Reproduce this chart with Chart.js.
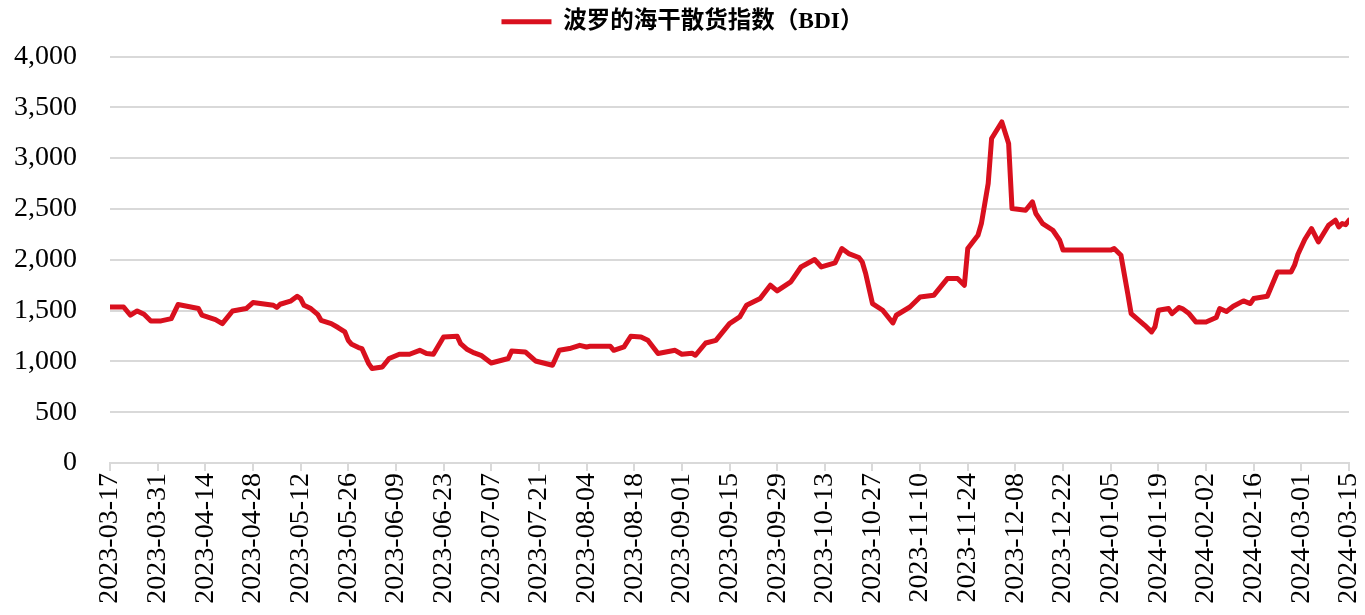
<!DOCTYPE html>
<html lang="zh-CN">
<head>
  <meta charset="UTF-8" />
  <title>波罗的海干散货指数（BDI）</title>
  <script src="https://cdn.jsdelivr.net/npm/chart.js"></script>
  <style>
    html, body { margin: 0; padding: 0; background: #fff; }
    #wrap { width: 1365px; height: 615px; position: relative; }
  </style>
</head>
<body>
  <div id="wrap"><canvas id="bdiChart"></canvas></div>

  <script>
    // BDI daily series
    const seriesName = '波罗的海干散货指数（BDI）';
    const startDate = '2023-03-17';
    const endDate = '2024-03-15';
    const tickStepDays = 14;
    const yTicks = [0, 500, 1000, 1500, 2000, 2500, 3000, 3500, 4000];

    const dates = [
      '2023-03-17', '2023-03-21', '2023-03-23', '2023-03-25', '2023-03-27', '2023-03-29', '2023-04-01', '2023-04-04',
      '2023-04-06', '2023-04-12', '2023-04-13', '2023-04-17', '2023-04-19', '2023-04-22', '2023-04-26', '2023-04-28',
      '2023-05-04', '2023-05-05', '2023-05-06', '2023-05-09', '2023-05-11', '2023-05-12', '2023-05-13', '2023-05-15',
      '2023-05-17', '2023-05-18', '2023-05-21', '2023-05-23', '2023-05-25', '2023-05-26', '2023-05-27', '2023-05-29',
      '2023-05-30', '2023-06-01', '2023-06-02', '2023-06-05', '2023-06-07', '2023-06-10', '2023-06-13', '2023-06-16',
      '2023-06-18', '2023-06-20', '2023-06-23', '2023-06-27', '2023-06-28', '2023-06-30', '2023-07-02', '2023-07-04',
      '2023-07-07', '2023-07-12', '2023-07-13', '2023-07-17', '2023-07-20', '2023-07-25', '2023-07-27', '2023-07-30',
      '2023-08-02', '2023-08-04', '2023-08-05', '2023-08-11', '2023-08-12', '2023-08-15', '2023-08-17', '2023-08-20',
      '2023-08-22', '2023-08-25', '2023-08-30', '2023-09-01', '2023-09-04', '2023-09-05', '2023-09-08', '2023-09-11',
      '2023-09-15', '2023-09-18', '2023-09-20', '2023-09-24', '2023-09-27', '2023-09-29', '2023-10-03', '2023-10-06',
      '2023-10-10', '2023-10-12', '2023-10-16', '2023-10-18', '2023-10-20', '2023-10-23', '2023-10-24', '2023-10-25',
      '2023-10-27', '2023-10-30', '2023-11-02', '2023-11-03', '2023-11-07', '2023-11-10', '2023-11-14', '2023-11-18',
      '2023-11-21', '2023-11-23', '2023-11-24', '2023-11-27', '2023-11-28', '2023-11-30', '2023-12-01', '2023-12-04',
      '2023-12-06', '2023-12-07', '2023-12-11', '2023-12-13', '2023-12-14', '2023-12-16', '2023-12-19', '2023-12-21',
      '2023-12-22', '2024-01-05', '2024-01-06', '2024-01-08', '2024-01-10', '2024-01-11', '2024-01-15', '2024-01-17',
      '2024-01-18', '2024-01-19', '2024-01-22', '2024-01-23', '2024-01-25', '2024-01-26', '2024-01-28', '2024-01-30',
      '2024-02-02', '2024-02-05', '2024-02-06', '2024-02-08', '2024-02-10', '2024-02-13', '2024-02-15', '2024-02-16',
      '2024-02-20', '2024-02-23', '2024-02-27', '2024-02-28', '2024-02-29', '2024-03-02', '2024-03-04', '2024-03-06',
      '2024-03-09', '2024-03-11', '2024-03-12', '2024-03-13', '2024-03-14', '2024-03-15'
    ];

    const bdi = [
      1535, 1535, 1454, 1496, 1463, 1398, 1398, 1421,
      1559, 1520, 1454, 1411, 1372, 1496, 1520, 1579,
      1552, 1530, 1562, 1592, 1641, 1618, 1552, 1520,
      1463, 1404, 1372, 1333, 1290, 1207, 1168, 1136,
      1126, 978, 929, 945, 1028, 1070, 1070, 1109,
      1077, 1070, 1240, 1247, 1175, 1116, 1083, 1060,
      984, 1028, 1102, 1093, 1004, 962, 1109, 1126,
      1158, 1142, 1148, 1148, 1109, 1142, 1247, 1240,
      1207, 1077, 1109, 1070, 1080, 1060, 1181, 1207,
      1372, 1437, 1552, 1618, 1749, 1693, 1782, 1929,
      2002, 1929, 1969, 2110, 2061, 2022, 1978, 1864,
      1569, 1503, 1378, 1454, 1535, 1634, 1650, 1815,
      1815, 1749, 2110, 2241, 2356, 2750, 3193, 3356,
      3144, 2504, 2487, 2569, 2455, 2356, 2290, 2192,
      2095, 2095, 2110, 2044, 1667, 1470, 1355, 1290,
      1340, 1503, 1520, 1470, 1530, 1520, 1470, 1388,
      1388, 1431, 1520, 1490, 1542, 1595, 1569, 1618,
      1641, 1880, 1880, 1946, 2054, 2199, 2307, 2175,
      2340, 2389, 2323, 2356, 2345, 2389
    ];

    // day offsets from the first date, used as linear x values
    function toUTC(s) {
      const [y, m, d] = s.split('-').map(Number);
      return Date.UTC(y, m - 1, d);
    }
    const DAY = 86400000;
    const t0 = toUTC(startDate);
    const spanDays = (toUTC(endDate) - t0) / DAY;

    function offsetToLabel(v) {
      const dt = new Date(t0 + v * DAY);
      const mm = String(dt.getUTCMonth() + 1).padStart(2, '0');
      const dd = String(dt.getUTCDate()).padStart(2, '0');
      return dt.getUTCFullYear() + '-' + mm + '-' + dd;
    }

    const points = dates.map((d, i) => ({ x: (toUTC(d) - t0) / DAY, y: bdi[i] }));

    const RED = '#D9101E';
    const GRID = '#D9D9D9';
    const SERIF = "'Times New Roman', 'Liberation Serif', 'Noto Sans CJK SC', serif";

    // leave some room under the legend, like the original
    const legendGap = {
      id: 'legendGap',
      beforeInit(chart) {
        const fit = chart.legend.fit;
        chart.legend.fit = function () {
          fit.call(this);
          this.height += 13;
        };
      }
    };

    new Chart(document.getElementById('bdiChart'), {
      type: 'line',
      data: {
        datasets: [{
          label: seriesName,
          data: points,
          borderColor: RED,
          backgroundColor: RED,
          borderWidth: 5,
          borderCapStyle: 'round',
          borderJoinStyle: 'round',
          pointRadius: 0,
          pointHoverRadius: 0,
          tension: 0,
          fill: false
        }]
      },
      plugins: [legendGap],
      options: {
        responsive: true,
        maintainAspectRatio: false,
        animation: false,
        layout: { padding: { left: 0, right: 0, top: 0, bottom: 2 } },
        plugins: {
          tooltip: { enabled: false },
          legend: {
            position: 'top',
            labels: {
              usePointStyle: true,
              pointStyle: 'line',
              pointStyleWidth: 50,
              color: '#000',
              padding: 10,
              font: { family: SERIF, size: 23.5, weight: 'bold' }
            }
          }
        },
        scales: {
          x: {
            type: 'linear',
            min: 0,
            max: spanDays,
            border: { display: true, color: GRID, width: 2 },
            grid: { drawOnChartArea: false, drawTicks: true, tickLength: 8, color: GRID, lineWidth: 2 },
            afterFit: (axis) => {
              axis.height = 150;
              axis.paddingLeft = 0;
              axis.paddingRight = 16;
            },
            ticks: {
              stepSize: tickStepDays,
              autoSkip: false,
              maxRotation: 90,
              minRotation: 90,
              padding: 2,
              color: '#000',
              font: { family: SERIF, size: 28 },
              callback: (v) => offsetToLabel(v)
            }
          },
          y: {
            min: yTicks[0],
            max: yTicks[yTicks.length - 1],
            border: { display: false },
            grid: { color: GRID, lineWidth: 2, drawTicks: false },
            afterFit: (axis) => { axis.width = 110; },
            afterBuildTicks: (axis) => { axis.ticks = yTicks.map(v => ({ value: v })); },
            ticks: {
              padding: 33,
              color: '#000',
              font: { family: SERIF, size: 28 },
              callback: (v) => v.toLocaleString('en-US')
            }
          }
        }
      }
    });
  </script>
</body>
</html>
